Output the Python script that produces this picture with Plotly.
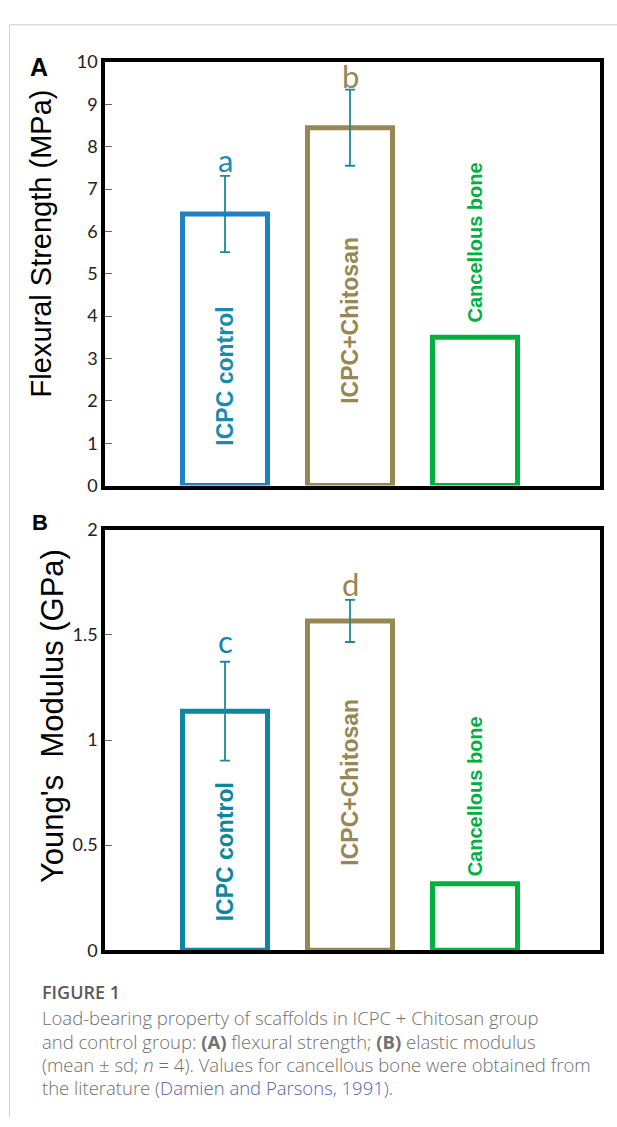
import plotly.graph_objects as go

W, H = 617, 1127

# ---------------- data ----------------
categories = ["ICPC control", "ICPC+Chitosan", "Cancellous bone"]
flex_values = [6.41, 8.45, 3.50]          # MPa
flex_sd = [0.9, 0.9]                        # measured groups only
flex_letters = ["a", "b"]
modulus_values = [1.137, 1.566, 0.317]    # GPa
modulus_sd = [0.235, 0.10]
modulus_letters = ["c", "d"]

flex_ticks = [0, 1, 2, 3, 4, 5, 6, 7, 8, 9, 10]
mod_ticks = [0, 0.5, 1, 1.5, 2]
mod_ticktext = ["0", "0.5", "1", "1.5", "2"]

# label anchor positions (data units) for the in-bar texts
flex_label_y = [2.57, 3.89, 5.74]
mod_label_y = [0.466, 0.797, 0.732]
flex_letter_y = [7.69, 9.68]
mod_letter_y = [1.473, 1.744]

# ---------------- styles ----------------
colA = ["#1f80c4", "#978752", "#00b140"]
colB = ["#0c879f", "#978752", "#00b140"]
txtA = ["#1a8bb0", "#978752", "#00b140"]
txtB = ["#0c879f", "#978752", "#00b140"]
err_col = "#1b8a9c"
xs = [0, 1, 2]
BW = 0.68


def px_x(p):
    return p / W


def px_y(p):
    return 1 - p / H


fig = go.Figure()

for (vals, sds, cols, xa, ya) in [
    (flex_values, flex_sd, colA, "x", "y"),
    (modulus_values, modulus_sd, colB, "x2", "y2"),
]:
    fig.add_trace(go.Bar(
        x=xs[:2], y=vals[:2], width=BW,
        marker=dict(color="white", line=dict(color=cols[:2], width=5)),
        error_y=dict(type="data", array=sds, visible=True, color=err_col,
                     thickness=1.8, width=5),
        xaxis=xa, yaxis=ya, showlegend=False, hoverinfo="skip",
    ))
    fig.add_trace(go.Bar(
        x=xs[2:], y=vals[2:], width=BW,
        marker=dict(color="white", line=dict(color=cols[2:], width=5)),
        xaxis=xa, yaxis=ya, showlegend=False, hoverinfo="skip",
    ))

ann = []
for i, c in enumerate(categories):
    size = 20 if i == 2 else 23
    ann.append(dict(x=xs[i], y=flex_label_y[i], xref="x", yref="y", text=f"<b>{c}</b>",
                    textangle=-90, showarrow=False, xanchor="center", yanchor="middle",
                    font=dict(family="Liberation Sans, Arial", size=size, color=txtA[i])))
    ann.append(dict(x=xs[i], y=mod_label_y[i], xref="x2", yref="y2", text=f"<b>{c}</b>",
                    textangle=-90, showarrow=False, xanchor="center", yanchor="middle",
                    font=dict(family="Liberation Sans, Arial", size=size, color=txtB[i])))
for i, L in enumerate(flex_letters):
    ann.append(dict(x=xs[i], y=flex_letter_y[i], xref="x", yref="y", text=L, showarrow=False,
                    xanchor="center", yanchor="middle",
                    font=dict(family="Lato", size=31, color=txtA[i])))
for i, L in enumerate(modulus_letters):
    ann.append(dict(x=xs[i], y=mod_letter_y[i], xref="x2", yref="y2", text=L, showarrow=False,
                    xanchor="center", yanchor="middle",
                    font=dict(family="Lato", size=31, color=txtB[i])))

# panel letters and axis titles
ann += [
    dict(x=px_x(39), y=px_y(56), xref="paper", yref="paper", text="<b>A</b>", showarrow=False,
         xanchor="center", yanchor="middle", font=dict(family="Liberation Sans", size=25, color="black")),
    dict(x=px_x(40), y=px_y(521), xref="paper", yref="paper", text="<b>B</b>", showarrow=False,
         xanchor="center", yanchor="middle", font=dict(family="Liberation Sans", size=22, color="black")),
    dict(x=px_x(41), y=px_y(236), xref="paper", yref="paper", text="Flexural Strength (MPa)",
         textangle=-90, showarrow=False, xanchor="center", yanchor="middle",
         font=dict(family="Liberation Sans", size=29, color="black")),
    dict(x=px_x(53), y=px_y(718), xref="paper", yref="paper", text="Young's  Modulus (GPa)",
         textangle=-90, showarrow=False, xanchor="center", yanchor="middle",
         font=dict(family="Liberation Sans", size=31, color="black")),
]

# caption
cap_font = dict(family="Open Sans", size=18.5, color="#707070", weight=300)
ann.append(dict(x=px_x(40), y=px_y(1000), xref="paper", yref="paper", text="FIGURE 1",
                showarrow=False, xanchor="left", yanchor="middle",
                font=dict(family="Open Sans", size=18, color="#5a5a5a", weight=600)))
cap_lines = [
    "Load-bearing property of scaffolds in ICPC + Chitosan group",
    "and control group: <b>(A)</b> flexural strength; <b>(B)</b> elastic modulus",
    "(mean ± sd; <i>n</i> = 4). Values for cancellous bone were obtained from",
    "the literature (<span style='color:#5b5db3'>Damien and Parsons, 1991</span>).",
]
for k, line in enumerate(cap_lines):
    ann.append(dict(x=px_x(40), y=px_y(1026 + 23.5 * k), xref="paper", yref="paper", text=line,
                    showarrow=False, xanchor="left", yanchor="middle", font=cap_font))

axis_common = dict(showline=True, linewidth=3.5, linecolor="black", mirror=True,
                   showgrid=False, zeroline=False, fixedrange=True)
xcommon = dict(axis_common, range=[-0.96, 3.0], showticklabels=False, ticks="")
ycommon = dict(axis_common, ticks="inside", ticklen=7, tickwidth=1, tickcolor="#666",
               tickfont=dict(family="Lato", size=18, color="#222"))

fig.update_layout(
    width=W, height=H, margin=dict(l=0, r=0, t=0, b=0),
    paper_bgcolor="white", plot_bgcolor="white",
    barmode="overlay",
    xaxis=dict(xcommon, domain=[px_x(105), px_x(600)], anchor="y"),
    yaxis=dict(ycommon, domain=[px_y(483), px_y(51)], range=[0, 10], tickvals=flex_ticks, anchor="x"),
    xaxis2=dict(xcommon, domain=[px_x(105), px_x(600)], anchor="y2"),
    yaxis2=dict(ycommon, domain=[px_y(957), px_y(528)], range=[0, 2], tickvals=mod_ticks,
                ticktext=mod_ticktext, anchor="x2"),
    annotations=ann,
    shapes=[
        dict(type="line", xref="paper", yref="paper", x0=px_x(9.5), x1=1, y0=px_y(13), y1=px_y(13),
             line=dict(color="#d0d0d0", width=1)),
        dict(type="line", xref="paper", yref="paper", x0=px_x(9.5), x1=px_x(9.5), y0=px_y(13), y1=0,
             line=dict(color="#d0d0d0", width=1)),
    ],
)

fig.write_html("out.html", config={"displayModeBar": False},
               post_script="document.body.style.margin='0px';document.body.style.overflow='hidden';")
